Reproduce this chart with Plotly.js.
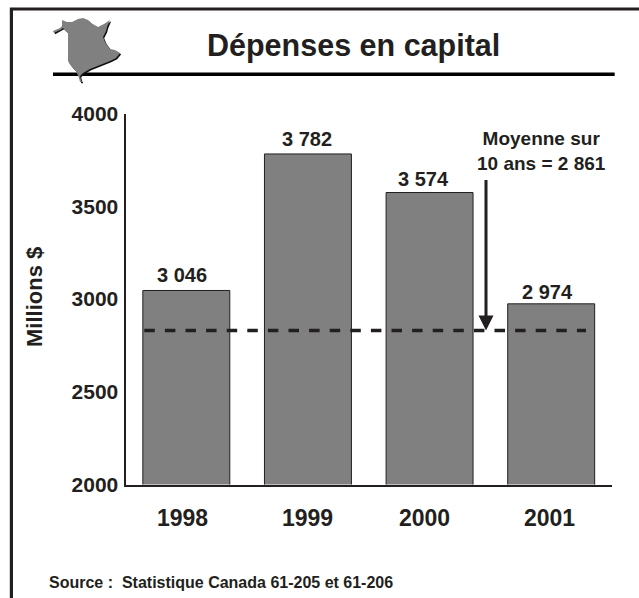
<!DOCTYPE html>
<html><head><meta charset="utf-8">
<script src="https://cdn.plot.ly/plotly-3.0.0.min.js"></script>
<style>html,body{margin:0;padding:0;background:#fff}#c{width:639px;height:598px}</style></head>
<body><div id="c"></div>
<script>
const years = ['1998','1999','2000','2001'];
const capital = [3046,3782,3574,2974];
const barLabels = ['3 046','3 782','3 574','2 974'];
const averageLine = 2830;
const tickVals = [2000,2500,3000,3500,4000];
const font = 'Liberation Sans, Arial, sans-serif';
const ink = '#231f20';
const W=639,H=598;
const px=x=>x/W, py=y=>1-y/H;
const bold=(size,color)=>({family:font,size:size,color:color||ink,weight:'bold'});
const yearNudges = [-4,0,-5,-2];
const labelNudgesX = [-4,-1,-6,-4];
const labelNudgesY = [2,2,1,-1];
// New Brunswick silhouette, in page pixels
const nb = [[62,20],[67,22],[72,22],[78,19],[83,18],[88,20],[91,23],[98,27],[104,24],[110,20],[107,27],[106,31],[103,37],[105,42],[107,45],[110,49],[115,50],[120,53],[116,58],[110,61],[100,65],[90,69],[83,73],[80,76],[81,80],[82,82],[80,82],[79,78],[76,71],[72,67],[69,63],[68,61],[68,45],[68,33],[63,28],[54,33],[53,31],[60,28],[62,26]];
const pathOf=(pts,dx,dy)=>'M'+pts.map(p=>px(p[0]+dx)+' '+py(p[1]+dy)).join('L')+'Z';
const paper={xref:'paper',yref:'paper'};
const valueNotes = years.map((y,i)=>({xref:'x',yref:'y',x:i,y:capital[i],text:barLabels[i],showarrow:false,yanchor:'bottom',xshift:labelNudgesX[i],yshift:labelNudgesY[i],font:bold(20)}));
const yearNotes = years.map((y,i)=>({xref:'x',yref:'paper',x:i,y:py(518),text:y,showarrow:false,xshift:yearNudges[i],yanchor:'middle',font:bold(23)}));
Plotly.newPlot('c',[
 {type:'bar',x:years,y:capital,width:0.715,marker:{color:'#808080',line:{color:ink,width:1}},hoverinfo:'skip'}
],{
 width:W,height:H,margin:{l:0,r:0,t:0,b:0,pad:0},paper_bgcolor:'#fff',plot_bgcolor:'#fff',showlegend:false,
 xaxis:{domain:[px(125.5),px(612)],range:[-0.5,3.5],type:'category',showline:true,linecolor:ink,linewidth:2,ticks:'',showgrid:false,zeroline:false,
   showticklabels:false,automargin:false},
 yaxis:{domain:[py(484.5),py(113.5)],range:[2000,4000],tickvals:tickVals,ticktext:tickVals.map(String),showline:true,linecolor:ink,linewidth:2,ticks:'',showgrid:false,zeroline:false,
   tickfont:bold(21),ticklabelstandoff:1,automargin:false},
 shapes:[
  {...paper,type:'rect',x0:px(11.4),x1:px(650),y0:py(620),y1:py(9),line:{color:ink,width:3.2},fillcolor:'rgba(0,0,0,0)',layer:'below'},
  {...paper,type:'line',x0:px(53),x1:px(614.7),y0:py(74.3),y1:py(74.3),line:{color:'#000',width:3.5}},
  {xref:'paper',yref:'y',type:'line',x0:px(144.3),x1:px(586),y0:averageLine,y1:averageLine,line:{color:ink,width:3.4,dash:'10.5px 10.1px'}},
  {...paper,type:'path',path:pathOf(nb,1.2,1.2),fillcolor:'#111',line:{width:0}},
  {...paper,type:'path',path:pathOf(nb,0,0),fillcolor:'#808080',line:{width:0}}
 ],
 annotations:[
  ...valueNotes,
  ...yearNotes,
  {...paper,x:px(353),y:py(46),text:'Dépenses en capital',showarrow:false,font:bold(30.5),xanchor:'center',yanchor:'middle'},
  {...paper,x:px(34),y:py(297),text:'Millions $',textangle:-90,showarrow:false,font:bold(22),xanchor:'center',yanchor:'middle'},
  {...paper,x:px(541.5),y:py(151),text:'Moyenne sur<br>10 ans = 2 861',showarrow:false,align:'center',font:bold(19),xanchor:'center',yanchor:'middle'},
  {...paper,x:px(47),y:py(582),text:'Source :  Statistique Canada 61-205 et 61-206',showarrow:false,font:bold(16),xanchor:'left',yanchor:'middle'},
  {xref:'paper',yref:'y',x:px(486),y:averageLine,axref:'pixel',ayref:'pixel',ax:0,ay:-152,showarrow:true,arrowhead:2,arrowsize:1,arrowwidth:3,arrowcolor:ink,text:''}
 ]
},{staticPlot:true,displayModeBar:false});
</script></body></html>
